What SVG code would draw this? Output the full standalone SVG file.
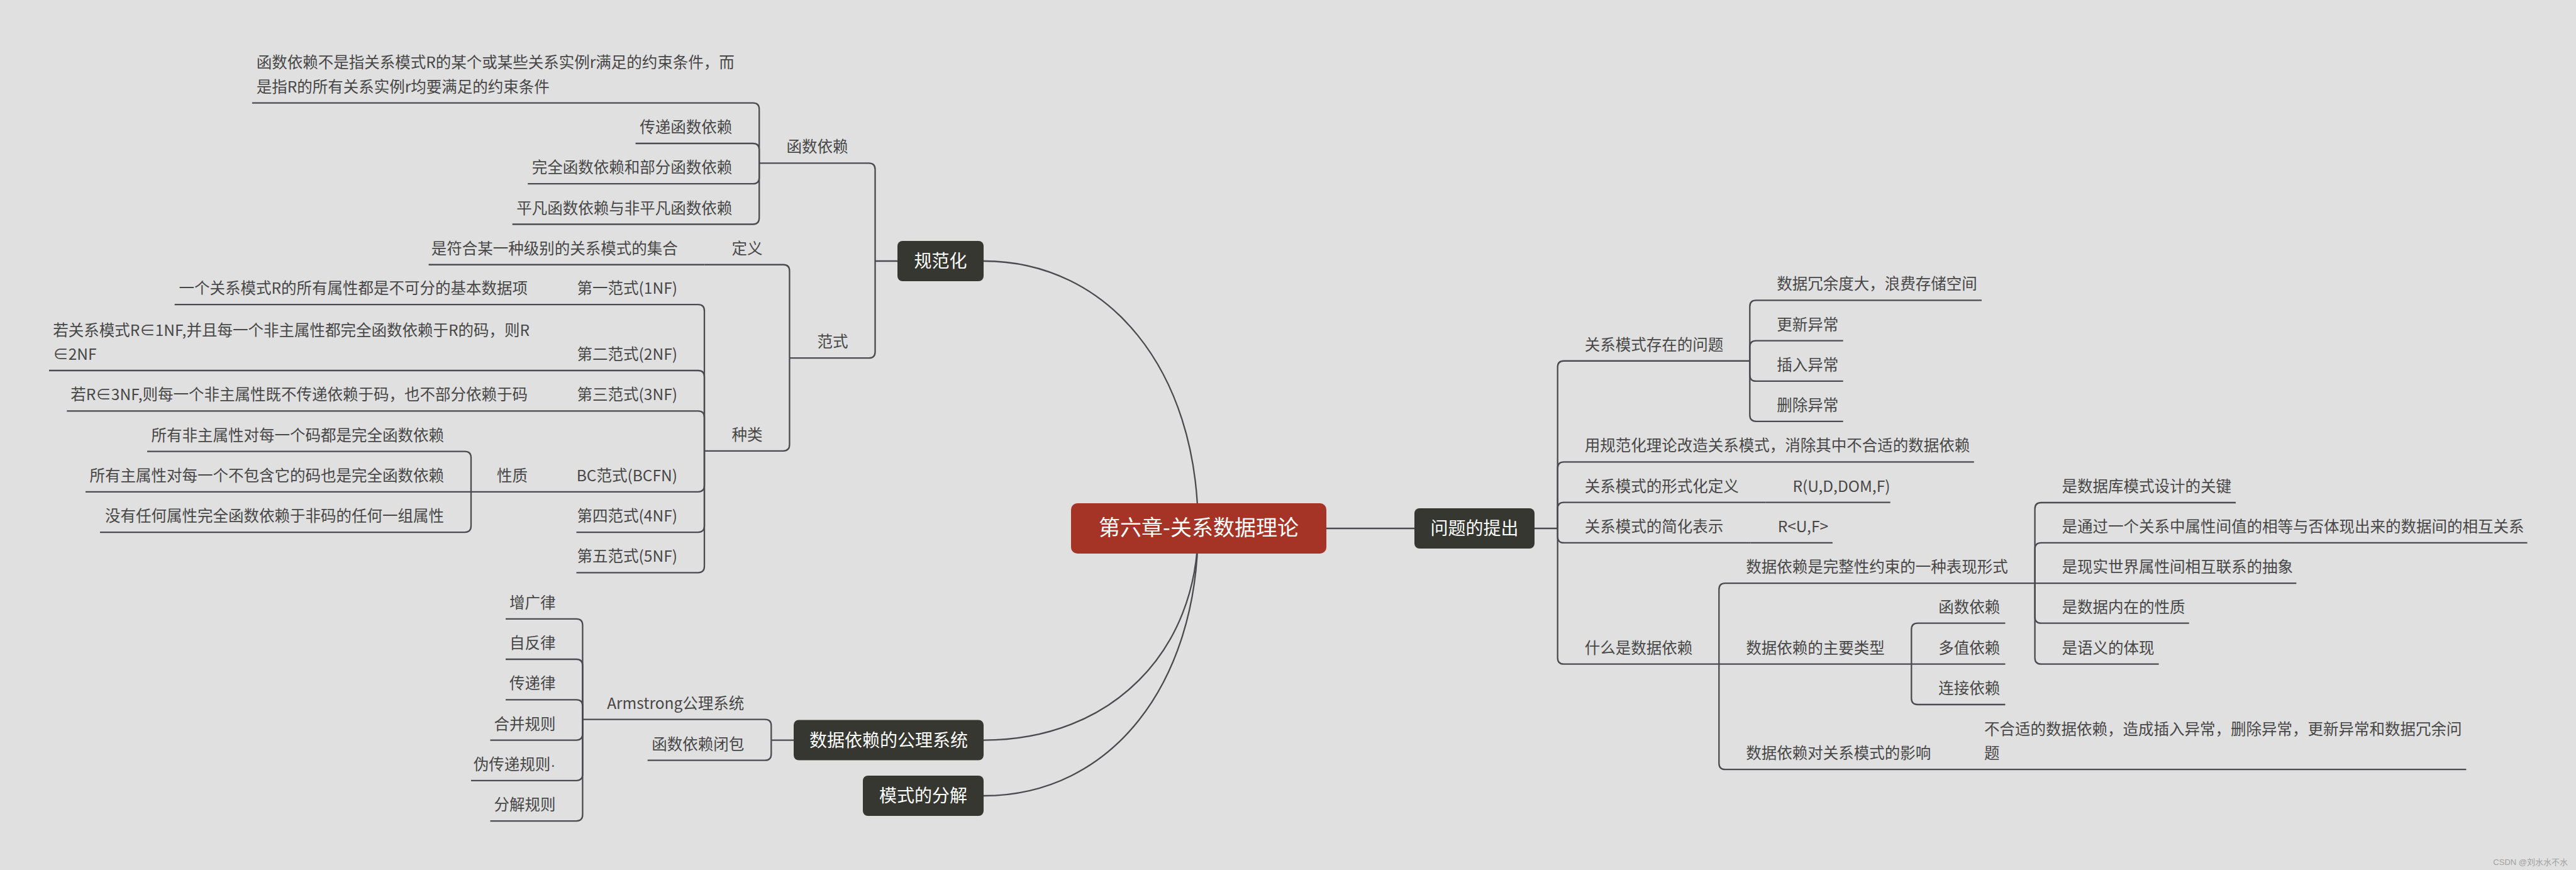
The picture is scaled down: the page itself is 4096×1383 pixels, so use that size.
<svg xmlns="http://www.w3.org/2000/svg" width="4096" height="1383" viewBox="0 0 4096 1383">
<style>
.t{font-family:"Noto Sans CJK SC","Noto Sans",sans-serif;font-size:24.5px;fill:#474747}
.e{text-anchor:end}
.n1{fill:#373731}
.l1{font-family:"Noto Sans CJK SC","Noto Sans",sans-serif;font-size:28px;fill:#ffffff;text-anchor:middle}
.c path{fill:none;stroke:#4a4a4f;stroke-width:2.3}
.cv path{fill:none;stroke:#4a4a4f;stroke-width:2.3}
</style>
<rect x="0" y="0" width="4096" height="1383" fill="#e0e0e0"/>
<g id="connectors">
<g class="cv">
<path d="M1564,415 C1761.8,415 1905,587 1905,840"/>
<path d="M1905,840 C1905,1035 1767.8,1176.6 1564,1176.6"/>
<path d="M1905,840 C1905,1086 1767.8,1265 1564,1265"/>
</g>
<g class="c">
<path d="M2109,840 H2249"/>
<path d="M1207.2,259.3 H1381.5 Q1391.5,259.3 1391.5,269.3 V415"/>
<path d="M1255.4,569.2 H1381.5 Q1391.5,569.2 1391.5,559.2 V415"/>
<path d="M1391.5,415 H1427"/>
<path d="M400.9,163.7 H1197.2 Q1207.2,163.7 1207.2,173.7 V259.3"/>
<path d="M1010.6,228 H1197.2 Q1207.2,228 1207.2,238 V259.3"/>
<path d="M839.2,292.2 H1197.2 Q1207.2,292.2 1207.2,282.2 V259.3"/>
<path d="M814.7,356.5 H1197.2 Q1207.2,356.5 1207.2,346.5 V259.3"/>
<path d="M1120.7,420.75 H1245.4 Q1255.4,420.75 1255.4,430.75 V569.2"/>
<path d="M1120,716.8 H1245.4 Q1255.4,716.8 1255.4,706.8 V569.2"/>
<path d="M681.6,420.75 H1120.7"/>
<path d="M882,484.2 H1110 Q1120,484.2 1120,494.2 V716.8"/>
<path d="M882,589 H1110 Q1120,589 1120,599 V716.8"/>
<path d="M882,653.3 H1110 Q1120,653.3 1120,663.3 V716.8"/>
<path d="M882,781.8 H1110 Q1120,781.8 1120,771.8 V716.8"/>
<path d="M916.5,846.1 H1110 Q1120,846.1 1120,836.1 V716.8"/>
<path d="M916.5,910.35 H1110 Q1120,910.35 1120,900.35 V716.8"/>
<path d="M277.7,484.2 H882"/>
<path d="M78,589 H882"/>
<path d="M106.3,653.3 H882"/>
<path d="M749,781.8 H882"/>
<path d="M234,717.6 H739 Q749,717.6 749,727.6 V781.8"/>
<path d="M136,781.8 H749"/>
<path d="M159,846.1 H739 Q749,846.1 749,836.1 V781.8"/>
<path d="M926.4,1143.7 H1216.3 Q1226.3,1143.7 1226.3,1153.7 V1176.6"/>
<path d="M1029.7,1208.7 H1216.3 Q1226.3,1208.7 1226.3,1198.7 V1176.6"/>
<path d="M1226.3,1176.6 H1262"/>
<path d="M804,983.8 H916.4 Q926.4,983.8 926.4,993.8 V1143.7"/>
<path d="M804,1048 H916.4 Q926.4,1048 926.4,1058 V1143.7"/>
<path d="M804,1112.3 H916.4 Q926.4,1112.3 926.4,1122.3 V1143.7"/>
<path d="M779.5,1176.6 H916.4 Q926.4,1176.6 926.4,1166.6 V1143.7"/>
<path d="M749,1240.8 H916.4 Q926.4,1240.8 926.4,1230.8 V1143.7"/>
<path d="M779.5,1305.1 H916.4 Q926.4,1305.1 926.4,1295.1 V1143.7"/>
<path d="M2440,840 H2476.7"/>
<path d="M2782.3,573.75 H2486.7 Q2476.7,573.75 2476.7,583.75 V840"/>
<path d="M3138.8,734.4 H2486.7 Q2476.7,734.4 2476.7,744.4 V840"/>
<path d="M2807.4,798.7 H2486.7 Q2476.7,798.7 2476.7,808.7 V840"/>
<path d="M2783.7,862.9 H2486.7 Q2476.7,862.9 2476.7,852.9 V840"/>
<path d="M2733.3,1055.7 H2486.7 Q2476.7,1055.7 2476.7,1045.7 V840"/>
<path d="M3005.7,798.7 H2807.4"/>
<path d="M2913.9,862.9 H2783.7"/>
<path d="M3151,477.4 H2792.3 Q2782.3,477.4 2782.3,487.4 V573.75"/>
<path d="M2930.7,541.6 H2792.3 Q2782.3,541.6 2782.3,551.6 V573.75"/>
<path d="M2930.7,605.9 H2792.3 Q2782.3,605.9 2782.3,595.9 V573.75"/>
<path d="M2930.7,669.8 H2792.3 Q2782.3,669.8 2782.3,659.8 V573.75"/>
<path d="M3235.6,927.2 H2743.3 Q2733.3,927.2 2733.3,937.2 V1055.7"/>
<path d="M3039.3,1055.7 H2733.3"/>
<path d="M3112,1223.2 H2743.3 Q2733.3,1223.2 2733.3,1213.2 V1055.7"/>
<path d="M3921.4,1223.2 H3112"/>
<path d="M3555,799 H3245.6 Q3235.6,799 3235.6,809 V927.2"/>
<path d="M4018.5,862.9 H3245.6 Q3235.6,862.9 3235.6,872.9 V927.2"/>
<path d="M3651.3,927.2 H3235.6"/>
<path d="M3480.75,990.7 H3245.6 Q3235.6,990.7 3235.6,980.7 V927.2"/>
<path d="M3432.6,1055.7 H3245.6 Q3235.6,1055.7 3235.6,1045.7 V927.2"/>
<path d="M3188.5,990.7 H3049.3 Q3039.3,990.7 3039.3,1000.7 V1055.7"/>
<path d="M3188.5,1055.7 H3039.3"/>
<path d="M3188.5,1120 H3049.3 Q3039.3,1120 3039.3,1110 V1055.7"/>
</g>
</g>
<g id="root">
<rect x="1703" y="800" width="406" height="80" rx="10" fill="#a53426"/>
<text x="1906" y="851" style="font-family:'Noto Sans CJK SC','Noto Sans',sans-serif;font-size:34px;fill:#ffffff;text-anchor:middle">第六章-关系数据理论</text>
</g>
<g id="n-guifanhua"><rect class="n1" x="1427" y="383" width="137" height="64" rx="8"/><text class="l1" x="1495.5" y="425">规范化</text></g>
<g id="n-gongli"><rect class="n1" x="1262" y="1144.5" width="302" height="64" rx="8"/><text class="l1" x="1413" y="1186.6">数据依赖的公理系统</text></g>
<g id="n-fenjie"><rect class="n1" x="1372" y="1233" width="192" height="64" rx="8"/><text class="l1" x="1468" y="1275">模式的分解</text></g>
<g id="n-wenti"><rect class="n1" x="2249" y="808" width="191" height="64" rx="8"/><text class="l1" x="2344.5" y="850">问题的提出</text></g>
<g id="n-hsyl"><text class="t e" x="1348.5" y="242.3">函数依赖</text></g>
<g id="n-fanshi"><text class="t e" x="1348.5" y="552.2">范式</text></g>
<g id="n-hsyl-def"><text class="t" x="407.7" y="108.4">函数依赖不是指关系模式R的某个或某些关系实例r满足的约束条件，而</text><text class="t" x="407.7" y="146.7">是指R的所有关系实例r均要满足的约束条件</text></g>
<g id="n-chuandi"><text class="t e" x="1164.2" y="211">传递函数依赖</text></g>
<g id="n-wanquan"><text class="t e" x="1164.2" y="275.2">完全函数依赖和部分函数依赖</text></g>
<g id="n-pingfan"><text class="t e" x="1164.2" y="339.5">平凡函数依赖与非平凡函数依赖</text></g>
<g id="n-dingyi"><text class="t e" x="1212.4" y="403.75">定义</text></g>
<g id="n-dingyi-c"><text class="t e" x="1077.7" y="403.75">是符合某一种级别的关系模式的集合</text></g>
<g id="n-zhonglei"><text class="t e" x="1212.4" y="699.8">种类</text></g>
<g id="n-1nf"><text class="t e" x="1077" y="467.2">第一范式(1NF)</text></g>
<g id="n-1nf-c"><text class="t e" x="839" y="467.2">一个关系模式R的所有属性都是不可分的基本数据项</text></g>
<g id="n-2nf"><text class="t e" x="1077" y="572">第二范式(2NF)</text></g>
<g id="n-2nf-c"><text class="t" x="84.2" y="533.7">若关系模式R∈1NF,并且每一个非主属性都完全函数依赖于R的码，则R</text><text class="t" x="84.2" y="572">∈2NF</text></g>
<g id="n-3nf"><text class="t e" x="1077" y="636.3">第三范式(3NF)</text></g>
<g id="n-3nf-c"><text class="t e" x="839" y="636.3">若R∈3NF,则每一个非主属性既不传递依赖于码，也不部分依赖于码</text></g>
<g id="n-bcnf"><text class="t e" x="1077" y="764.8">BC范式(BCFN)</text></g>
<g id="n-xingzhi"><text class="t e" x="839" y="764.8">性质</text></g>
<g id="n-xz1"><text class="t e" x="706" y="700.6">所有非主属性对每一个码都是完全函数依赖</text></g>
<g id="n-xz2"><text class="t e" x="706" y="764.8">所有主属性对每一个不包含它的码也是完全函数依赖</text></g>
<g id="n-xz3"><text class="t e" x="706" y="829.1">没有任何属性完全函数依赖于非码的任何一组属性</text></g>
<g id="n-4nf"><text class="t e" x="1077" y="829.1">第四范式(4NF)</text></g>
<g id="n-5nf"><text class="t e" x="1077" y="893.35">第五范式(5NF)</text></g>
<g id="n-armstrong"><text class="t e" x="1183.3" y="1126.7">Armstrong公理系统</text></g>
<g id="n-bibao"><text class="t e" x="1183.3" y="1191.7">函数依赖闭包</text></g>
<g id="n-a1"><text class="t e" x="883.4" y="966.8">增广律</text></g>
<g id="n-a2"><text class="t e" x="883.4" y="1031">自反律</text></g>
<g id="n-a3"><text class="t e" x="883.4" y="1095.3">传递律</text></g>
<g id="n-a4"><text class="t e" x="883.4" y="1159.6">合并规则</text></g>
<g id="n-a5"><text class="t e" x="883.4" y="1223.8">伪传递规则<tspan style="font-family:'Liberation Sans',sans-serif">·</tspan></text></g>
<g id="n-a6"><text class="t e" x="883.4" y="1288.1">分解规则</text></g>
<g id="n-cunzai"><text class="t" x="2519.7" y="556.75">关系模式存在的问题</text></g>
<g id="n-r1"><text class="t" x="2825.3" y="460.4">数据冗余度大，浪费存储空间</text></g>
<g id="n-r2"><text class="t" x="2825.3" y="524.6">更新异常</text></g>
<g id="n-r3"><text class="t" x="2825.3" y="588.9">插入异常</text></g>
<g id="n-r4"><text class="t" x="2825.3" y="652.8">删除异常</text></g>
<g id="n-gaizao"><text class="t" x="2519.7" y="717.4">用规范化理论改造关系模式，消除其中不合适的数据依赖</text></g>
<g id="n-xingshi"><text class="t" x="2519.7" y="781.7">关系模式的形式化定义</text></g>
<g id="n-xingshi-c"><text class="t" x="2850.4" y="781.7">R(U,D,DOM,F)</text></g>
<g id="n-jianhua"><text class="t" x="2519.7" y="845.9">关系模式的简化表示</text></g>
<g id="n-jianhua-c"><text class="t" x="2826.7" y="845.9">R&lt;U,F&gt;</text></g>
<g id="n-shenme"><text class="t" x="2519.7" y="1038.7">什么是数据依赖</text></g>
<g id="n-wanzheng"><text class="t" x="2776.3" y="910.2">数据依赖是完整性约束的一种表现形式</text></g>
<g id="n-w1"><text class="t" x="3278.6" y="782">是数据库模式设计的关键</text></g>
<g id="n-w2"><text class="t" x="3278.6" y="845.9">是通过一个关系中属性间值的相等与否体现出来的数据间的相互关系</text></g>
<g id="n-w3"><text class="t" x="3278.6" y="910.2">是现实世界属性间相互联系的抽象</text></g>
<g id="n-w4"><text class="t" x="3278.6" y="973.7">是数据内在的性质</text></g>
<g id="n-w5"><text class="t" x="3278.6" y="1038.7">是语义的体现</text></g>
<g id="n-leixing"><text class="t" x="2776.3" y="1038.7">数据依赖的主要类型</text></g>
<g id="n-t1"><text class="t" x="3082.3" y="973.7">函数依赖</text></g>
<g id="n-t2"><text class="t" x="3082.3" y="1038.7">多值依赖</text></g>
<g id="n-t3"><text class="t" x="3082.3" y="1103">连接依赖</text></g>
<g id="n-yingxiang"><text class="t" x="2776.3" y="1206.2">数据依赖对关系模式的影响</text></g>
<g id="n-yingxiang-c"><text class="t" x="3154.9" y="1167.9">不合适的数据依赖，造成插入异常，删除异常，更新异常和数据冗余问</text><text class="t" x="3154.9" y="1206.2">题</text></g>
<text x="4083" y="1375" style="font-family:'Liberation Sans','Noto Sans CJK SC',sans-serif;font-size:13px;fill:#a0a0a0;text-anchor:end">CSDN @刘水水不水</text>
</svg>
